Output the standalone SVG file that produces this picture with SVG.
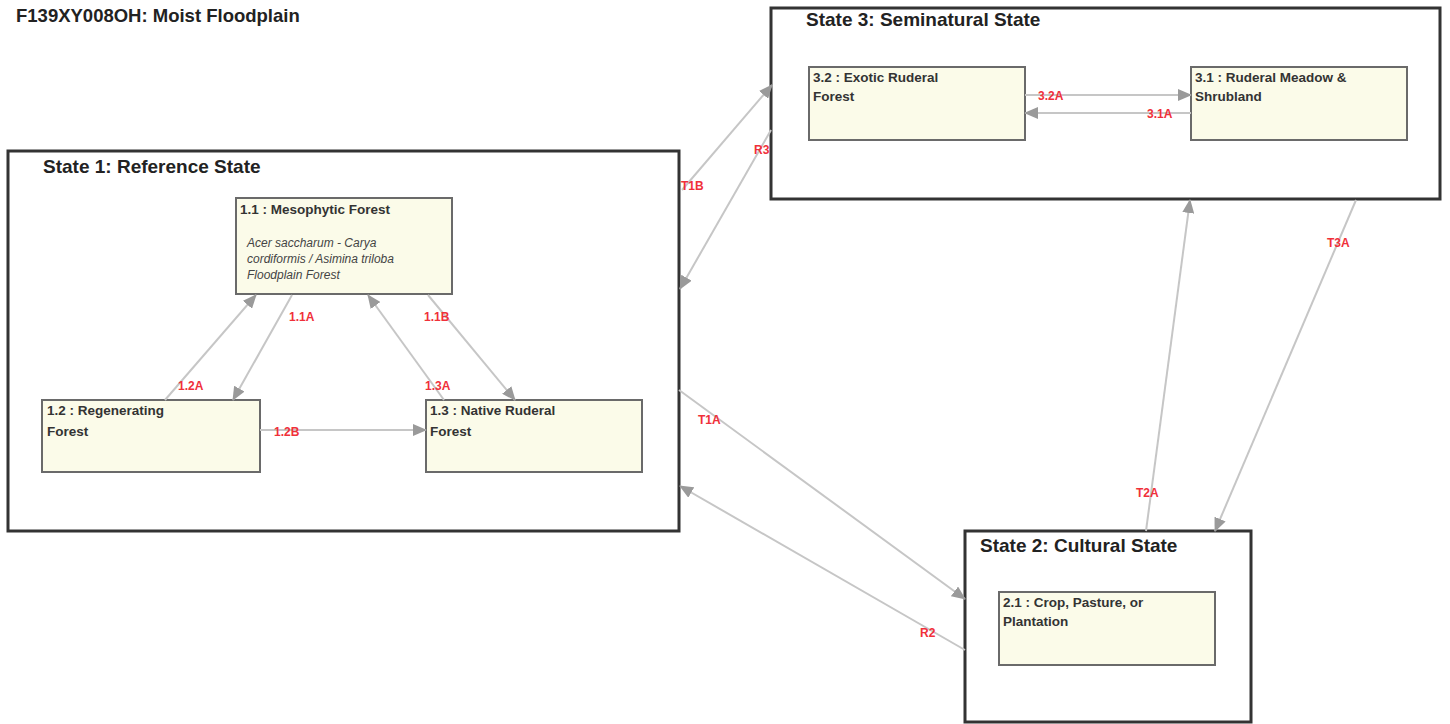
<svg xmlns="http://www.w3.org/2000/svg" width="1450" height="724" viewBox="0 0 1450 724">
<style>
.state{fill:#fff;stroke:#333;stroke-width:3}
.node{fill:#fbfbe9;stroke:#6a6a6a;stroke-width:2}
.st{font-family:"Liberation Sans",Arial,sans-serif;font-weight:bold;font-size:19px;fill:#222}
.nt{font-family:"Liberation Sans",Arial,sans-serif;font-weight:bold;font-size:13.5px;fill:#333}
.it{font-family:"Liberation Sans",Arial,sans-serif;font-style:italic;font-size:12px;fill:#444}
.lbl{font-family:"Liberation Sans",Arial,sans-serif;font-weight:bold;font-size:12px;fill:#f0303a}
.c{stroke:#c6c6c6;stroke-width:2;fill:none;marker-end:url(#ah)}
</style>
<defs>
<marker id="ah" markerUnits="userSpaceOnUse" markerWidth="14" markerHeight="12" refX="13" refY="6" orient="auto">
<path d="M0,0 L14,6 L0,12 Z" fill="#9a9a9a"/>
</marker>
</defs>
<rect width="1450" height="724" fill="#fff"/>
<text x="16" y="22" class="st" style="font-size:18.5px">F139XY008OH: Moist Floodplain</text>

<g id="state1">
<rect class="state" x="8" y="151" width="671" height="380"/>
<text x="43" y="173" class="st">State 1: Reference State</text>
</g>
<g id="state3">
<rect class="state" x="771" y="8" width="669" height="191"/>
<text x="806" y="26" class="st">State 3: Seminatural State</text>
</g>
<g id="state2">
<rect class="state" x="965" y="531" width="286" height="191"/>
<text x="980" y="552" class="st">State 2: Cultural State</text>
</g>

<g id="n11">
<rect class="node" x="236" y="198" width="216" height="96"/>
<text x="240" y="214" class="nt">1.1 : Mesophytic Forest</text>
<text x="247" y="247" class="it">Acer saccharum - Carya</text>
<text x="247" y="263" class="it">cordiformis / Asimina triloba</text>
<text x="247" y="279" class="it">Floodplain Forest</text>
</g>
<g id="n12">
<rect class="node" x="42" y="400" width="218" height="72"/>
<text x="47" y="415" class="nt">1.2 : Regenerating</text>
<text x="47" y="436" class="nt">Forest</text>
</g>
<g id="n13">
<rect class="node" x="426" y="400" width="216" height="72"/>
<text x="430" y="415" class="nt">1.3 : Native Ruderal</text>
<text x="430" y="436" class="nt">Forest</text>
</g>
<g id="n32">
<rect class="node" x="809" y="67" width="216" height="73"/>
<text x="813" y="82" class="nt">3.2 : Exotic Ruderal</text>
<text x="813" y="101" class="nt">Forest</text>
</g>
<g id="n31">
<rect class="node" x="1191" y="67" width="216" height="73"/>
<text x="1195" y="82" class="nt">3.1 : Ruderal Meadow &amp;</text>
<text x="1195" y="101" class="nt">Shrubland</text>
</g>
<g id="n21">
<rect class="node" x="999" y="592" width="216" height="73"/>
<text x="1003" y="607" class="nt">2.1 : Crop, Pasture, or</text>
<text x="1003" y="626" class="nt">Plantation</text>
</g>

<g id="connectors">
<line class="c" x1="292" y1="295" x2="233" y2="400"/>
<line class="c" x1="165" y1="400" x2="256" y2="295"/>
<line class="c" x1="428" y1="295" x2="515" y2="400"/>
<line class="c" x1="444" y1="400" x2="368" y2="295"/>
<line class="c" x1="260" y1="430" x2="426" y2="430"/>
<line class="c" x1="1025" y1="95" x2="1191" y2="95"/>
<line class="c" x1="1191" y1="113" x2="1025" y2="113"/>
<line class="c" x1="682" y1="190" x2="772" y2="85"/>
<line class="c" x1="771" y1="130" x2="680" y2="289"/>
<line class="c" x1="679" y1="390" x2="965" y2="599"/>
<line class="c" x1="965" y1="650" x2="680" y2="486"/>
<line class="c" x1="1146" y1="531" x2="1190" y2="200"/>
<line class="c" x1="1356" y1="200" x2="1215" y2="531"/>
</g>
<g id="labels">
<text x="289" y="321" class="lbl">1.1A</text>
<text x="178" y="390" class="lbl">1.2A</text>
<text x="424" y="321" class="lbl">1.1B</text>
<text x="425" y="390" class="lbl">1.3A</text>
<text x="274" y="436" class="lbl">1.2B</text>
<text x="1038" y="100" class="lbl">3.2A</text>
<text x="1147" y="118" class="lbl">3.1A</text>
<text x="681" y="190" class="lbl">T1B</text>
<text x="754" y="154" class="lbl">R3</text>
<text x="698" y="424" class="lbl">T1A</text>
<text x="920" y="637" class="lbl">R2</text>
<text x="1136" y="497" class="lbl">T2A</text>
<text x="1327" y="247" class="lbl">T3A</text>
</g>
</svg>
